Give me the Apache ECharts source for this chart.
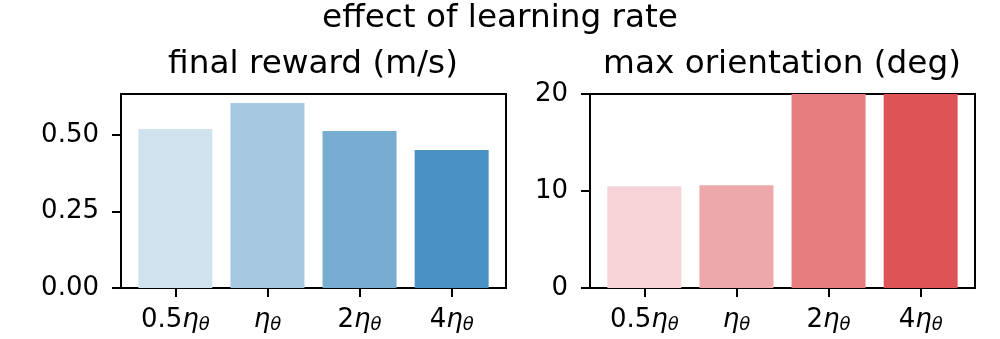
<!DOCTYPE html>
<html lang="en">
<head>
  <meta charset="UTF-8">
  <title>effect of learning rate</title>
  <script src="https://cdn.jsdelivr.net/npm/echarts@6/dist/echarts.min.js"></script>
  <style>
    html, body { margin: 0; padding: 0; background: #fff; }
    #chart { width: 1000px; height: 339px; }
  </style>
</head>
<body>
<div id="chart"></div>
<script>
  // categories (learning-rate multipliers)
  const categories = [
    '0.5{eta|η}{sub|θ}',
    '{eta|η}{sub|θ}',
    '2{eta|η}{sub|θ}',
    '4{eta|η}{sub|θ}'
  ];
  const rewardValues = [0.519, 0.604, 0.512, 0.450];
  const orientValues = [10.5, 10.6, 20, 20];
  const rewardTicks = [0, 0.25, 0.5];
  const orientTicks = [0, 10, 20];

  const blues = ['#d1e2ef', '#a6c8e0', '#78acd0', '#4b92c4'];
  const reds = ['#f5d3d6', '#eda8ab', '#e67d7e', '#de5355'];

  const FONT = 'DejaVu Sans';
  const TICK = 26;
  const TITLE = 32.7;

  const chart = echarts.init(document.getElementById('chart'), null, { renderer: 'canvas' });

  const xIdx = categories.map((c, i) => i);

  function xAxis(gridIndex) {
    return {
      type: 'value',
      gridIndex: gridIndex,
      min: -0.59,
      max: 3.59,
      splitLine: { show: false },
      axisLine: { show: true, onZero: false, lineStyle: { color: '#000', width: 2 } },
      axisTick: { show: true, customValues: xIdx, length: 9, lineStyle: { color: '#000', width: 2 } },
      axisLabel: {
        customValues: xIdx,
        margin: 19,
        color: '#000',
        fontFamily: FONT,
        fontSize: TICK,
        formatter: v => categories[Math.round(v)],
        rich: {
          eta: { fontFamily: FONT, fontStyle: 'italic', fontSize: TICK, color: '#000' },
          sub: { fontFamily: FONT, fontStyle: 'italic', fontSize: 18, color: '#000', padding: [9, 0, 0, 0] }
        }
      }
    };
  }

  function yAxis(gridIndex, max, ticks, fmt) {
    return {
      type: 'value',
      gridIndex: gridIndex,
      min: 0,
      max: max,
      splitLine: { show: false },
      axisLine: { show: true, onZero: false, lineStyle: { color: '#000', width: 2 } },
      axisTick: { show: true, customValues: ticks, length: 9, lineStyle: { color: '#000', width: 2 } },
      axisLabel: {
        customValues: ticks,
        margin: 22,
        color: '#000',
        fontFamily: FONT,
        fontSize: TICK,
        formatter: fmt
      }
    };
  }

  function barData(values, colors) {
    return values.map((v, i) => ({ value: [i, v], itemStyle: { color: colors[i] } }));
  }

  chart.setOption({
    animation: false,
    backgroundColor: '#fff',
    grid: [
      { left: 121, top: 94, width: 385, height: 194, show: true, borderColor: '#000', borderWidth: 2, backgroundColor: 'transparent' },
      { left: 590, top: 94, width: 385, height: 194, show: true, borderColor: '#000', borderWidth: 2, backgroundColor: 'transparent' }
    ],
    xAxis: [xAxis(0), xAxis(1)],
    yAxis: [
      yAxis(0, 0.633, rewardTicks, v => v.toFixed(2)),
      yAxis(1, 20, orientTicks, v => String(v))
    ],
    graphic: [
      { type: 'text', x: 500, y: 19, style: { text: 'effect of learning rate', fontFamily: FONT, fontSize: TITLE, fill: '#000', textAlign: 'center', textVerticalAlign: 'middle' } },
      { type: 'text', x: 313, y: 65, style: { text: 'final reward (m/s)', fontFamily: FONT, fontSize: TITLE, fill: '#000', textAlign: 'center', textVerticalAlign: 'middle' } },
      { type: 'text', x: 782, y: 65, style: { text: 'max orientation (deg)', fontFamily: FONT, fontSize: TITLE, fill: '#000', textAlign: 'center', textVerticalAlign: 'middle' } }
    ],
    series: [
      {
        name: 'final reward',
        type: 'bar',
        xAxisIndex: 0,
        yAxisIndex: 0,
        barWidth: 74,
        data: barData(rewardValues, blues)
      },
      {
        name: 'max orientation',
        type: 'bar',
        xAxisIndex: 1,
        yAxisIndex: 1,
        barWidth: 74,
        clip: true,
        data: barData(orientValues, reds)
      }
    ]
  });
</script>
</body>
</html>
